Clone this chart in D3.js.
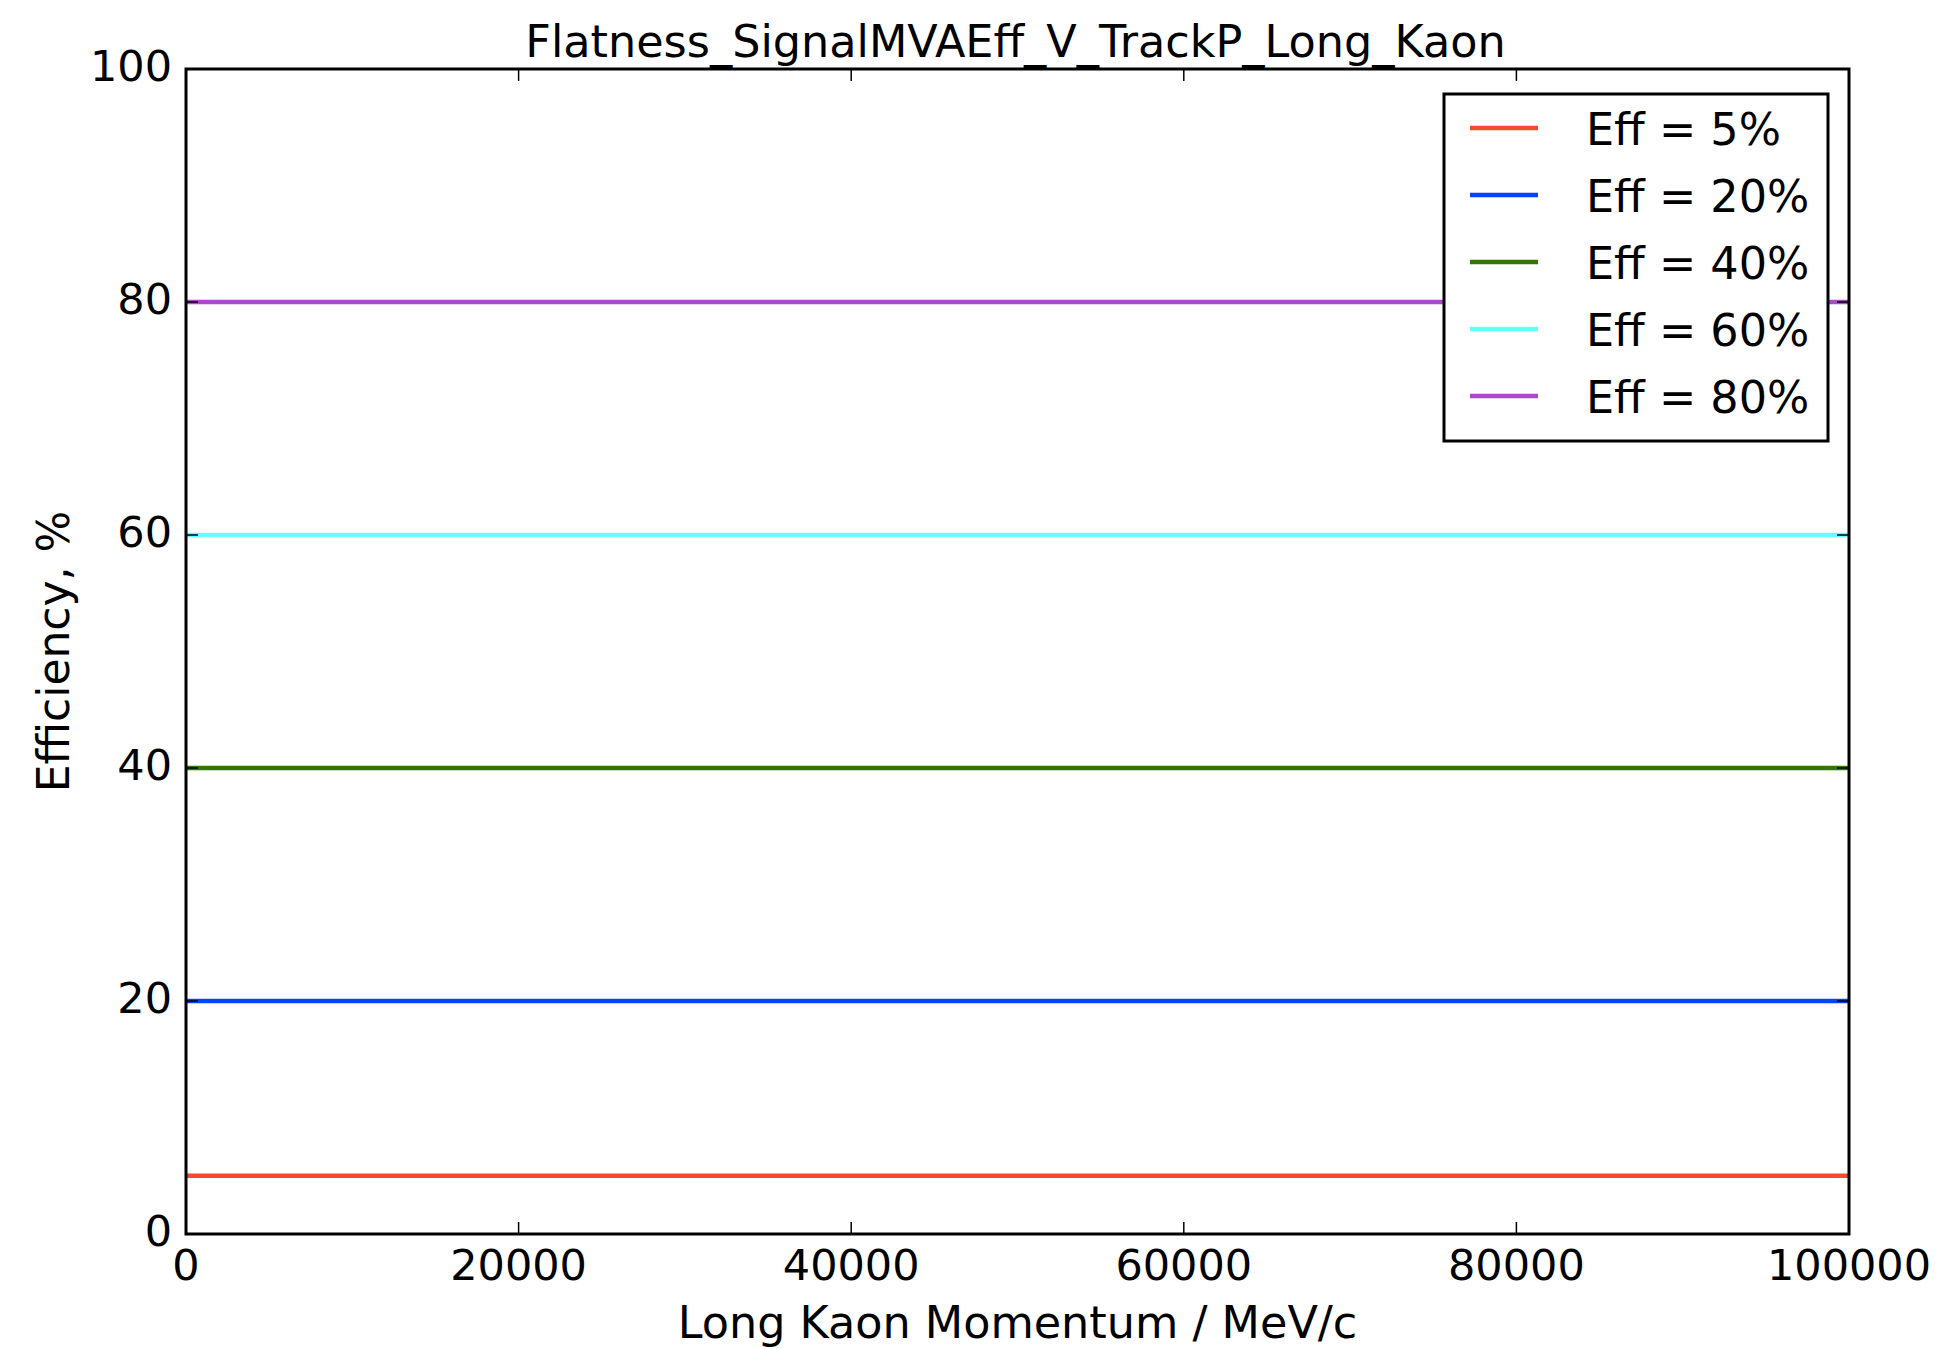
<!DOCTYPE html>
<html>
<head>
<meta charset="utf-8">
<script src="https://cdn.jsdelivr.net/npm/d3@7"></script>
<style>
  html, body { margin: 0; padding: 0; background: #fff; }
  svg text { font-family: "DejaVu Sans", sans-serif; fill: #000; }
</style>
</head>
<body>
<div id="chart"></div>
<script>
// data
const xPoints = [0, 100000];
const seriesLabels = ["Eff = 5%", "Eff = 20%", "Eff = 40%", "Eff = 60%", "Eff = 80%"];
const seriesValues = [
  [5, 5],
  [20, 20],
  [40, 40],
  [60, 60],
  [80, 80]
];
const seriesColors = ["#f24b31", "#0544fb", "#347400", "#66ffff", "#ad48cb"];
const xTicks = [0, 20000, 40000, 60000, 80000, 100000];
const yTicks = [0, 20, 40, 60, 80, 100];

const W = 1937, H = 1349;
const margin = { left: 186, right: W - 1849, top: 69, bottom: H - 1234 };
const pw = W - margin.left - margin.right;
const ph = H - margin.top - margin.bottom;

const svg = d3.select("#chart").append("svg")
  .attr("width", W).attr("height", H);

const x = d3.scaleLinear().domain([0, 100000]).range([margin.left, margin.left + pw]);
const y = d3.scaleLinear().domain([0, 100]).range([margin.top + ph, margin.top]);

// lines
const line = d3.line().x((d, i) => x(xPoints[i])).y(d => y(d));
const g = svg.append("g");
seriesValues.forEach((vals, k) => {
  g.append("path")
    .attr("d", line(vals))
    .attr("fill", "none")
    .attr("stroke", seriesColors[k])
    .attr("stroke-width", 4.5);
});

// ticks inward on all sides
const tickLen = 12;
const axes = svg.append("g").attr("stroke", "#000").attr("stroke-width", 1.5);
xTicks.forEach(t => {
  axes.append("line").attr("x1", x(t)).attr("x2", x(t)).attr("y1", y(0)).attr("y2", y(0) - tickLen);
  axes.append("line").attr("x1", x(t)).attr("x2", x(t)).attr("y1", y(100)).attr("y2", y(100) + tickLen);
});
yTicks.forEach(t => {
  axes.append("line").attr("x1", x(0)).attr("x2", x(0) + tickLen).attr("y1", y(t)).attr("y2", y(t));
  axes.append("line").attr("x1", x(100000)).attr("x2", x(100000) - tickLen).attr("y1", y(t)).attr("y2", y(t));
});

// frame
svg.append("rect")
  .attr("x", margin.left).attr("y", margin.top)
  .attr("width", pw).attr("height", ph)
  .attr("fill", "none").attr("stroke", "#000").attr("stroke-width", 3);

// tick labels
svg.append("g").selectAll("text").data(xTicks).join("text")
  .attr("x", d => x(d)).attr("y", y(0) + 46)
  .attr("text-anchor", "middle").attr("font-size", 43)
  .text(d => d);

svg.append("g").selectAll("text").data(yTicks).join("text")
  .attr("x", margin.left - 14).attr("y", d => y(d) + 12)
  .attr("text-anchor", "end").attr("font-size", 43)
  .text(d => d);

// title and axis labels
svg.append("text")
  .attr("x", margin.left + pw / 2 - 2).attr("y", 57)
  .attr("text-anchor", "middle").attr("font-size", 44.5)
  .text("Flatness_SignalMVAEff_V_TrackP_Long_Kaon");

svg.append("text")
  .attr("x", margin.left + pw / 2).attr("y", 1338)
  .attr("text-anchor", "middle").attr("font-size", 44.5)
  .text("Long Kaon Momentum / MeV/c");

svg.append("text")
  .attr("transform", `translate(69,${margin.top + ph / 2}) rotate(-90)`)
  .attr("text-anchor", "middle").attr("font-size", 44)
  .text("Efficiency, %");

// legend
const lg = svg.append("g");
lg.append("rect")
  .attr("x", 1444).attr("y", 94).attr("width", 384).attr("height", 347)
  .attr("fill", "#fff").attr("stroke", "#000").attr("stroke-width", 3);
seriesLabels.forEach((lab, k) => {
  const ly = 128 + k * 67;
  lg.append("line")
    .attr("x1", 1470).attr("x2", 1538).attr("y1", ly).attr("y2", ly)
    .attr("stroke", seriesColors[k]).attr("stroke-width", 4.5);
  lg.append("text")
    .attr("x", 1586).attr("y", ly + 17)
    .attr("font-size", 44.5)
    .text(lab);
});
</script>
</body>
</html>
